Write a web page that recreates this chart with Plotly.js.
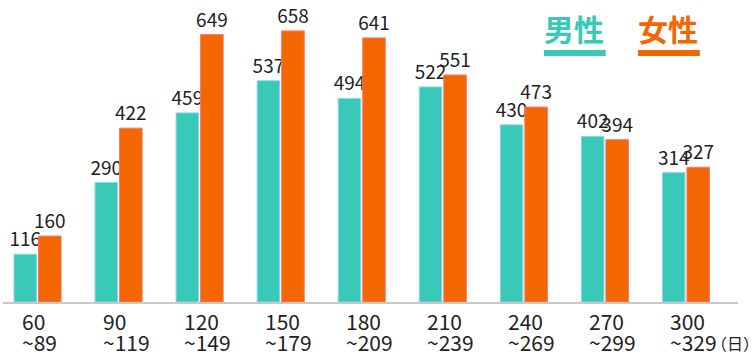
<!DOCTYPE html>
<html>
<head>
<meta charset="utf-8">
<script src="https://cdn.plot.ly/plotly-3.0.1.min.js"></script>
<style>html,body{margin:0;padding:0;background:#fff;}#chart{width:754px;height:362px;}</style>
</head>
<body>
<div id="chart"></div>
<script>
const categories = ['60~89','90~119','120~149','150~179','180~209','210~239','240~269','270~299','300~329'];
const rangeStart = ['60','90','120','150','180','210','240','270','300'];
const rangeEnd = ['~89','~119','~149','~179','~209','~239','~269','~299','~329'];
const seriesNames = ['男性','女性'];
const maleValues = [116,290,459,537,494,522,430,402,314];
const femaleValues = [160,422,649,658,641,551,473,394,327];
const unitLabel = '（日）';

const colors = ['#39C9B9','#F46600'];
const outlineColors = ['#8fd3ee','#f27a6a'];
const FONT = '"Noto Sans CJK JP", "Noto Sans", sans-serif';

const traces = [maleValues, femaleValues].map((vals, i) => ({
  type: 'bar',
  x: categories,
  y: vals,
  name: seriesNames[i],
  marker: {color: colors[i], line: {color: outlineColors[i], width: 1}},
  texttemplate: '%{y}',
  textposition: 'outside',
  constraintext: 'none',
  cliponaxis: false,
  textfont: {family: FONT, size: 19, color: '#222'},
  hoverinfo: 'none'
}));

const annotations = [];
categories.forEach((c, i) => {
  annotations.push({x: c, xref: 'x', y: 0, yref: 'paper', text: rangeStart[i], showarrow: false,
    xanchor: 'left', yanchor: 'top', xshift: -18, yshift: -2, align: 'left',
    font: {family: FONT, size: 21, color: '#222'}});
  annotations.push({x: c, xref: 'x', y: 0, yref: 'paper', text: rangeEnd[i], showarrow: false,
    xanchor: 'left', yanchor: 'top', xshift: -18, yshift: -23, align: 'left',
    font: {family: FONT, size: 21, color: '#222'}});
});
annotations.push({x: 1, xref: 'paper', y: 0, yref: 'paper', text: unitLabel, showarrow: false,
  xanchor: 'left', yanchor: 'top', xshift: -28, yshift: -28, borderpad: 0,
  font: {family: FONT, size: 16, color: '#222'}});

const legendX = [0.733, 0.861];
const shapes = [];
seriesNames.forEach((n, i) => {
  annotations.push({x: legendX[i], xref: 'paper', y: 0.907, yref: 'paper', text: '<b>' + n + '</b>', showarrow: false,
    xanchor: 'left', yanchor: 'middle', font: {family: FONT, size: 30, color: colors[i]}});
  shapes.push({type: 'rect', xref: 'paper', yref: 'paper', x0: legendX[i] + 0.003, x1: legendX[i] + 0.087,
    y0: 0.8146, y1: 0.8344, fillcolor: colors[i], line: {width: 0}});
});

const layout = {
  width: 754, height: 362,
  margin: {l: 3, r: 16, t: 0, b: 60},
  paper_bgcolor: '#fff', plot_bgcolor: '#fff',
  showlegend: false,
  barmode: 'group',
  bargap: 0.395,
  bargroupgap: 0.08,
  xaxis: {type: 'category', range: [-0.426, 8.642], showticklabels: false, ticks: '',
    showline: true, linecolor: '#c8c8c8', linewidth: 2, showgrid: false, zeroline: false, fixedrange: true},
  yaxis: {range: [0, 733], visible: false, showgrid: false, zeroline: false, fixedrange: true},
  annotations: annotations,
  shapes: shapes,
  font: {family: FONT}
};

Plotly.newPlot('chart', traces, layout, {displayModeBar: false, staticPlot: true});
</script>
</body>
</html>
